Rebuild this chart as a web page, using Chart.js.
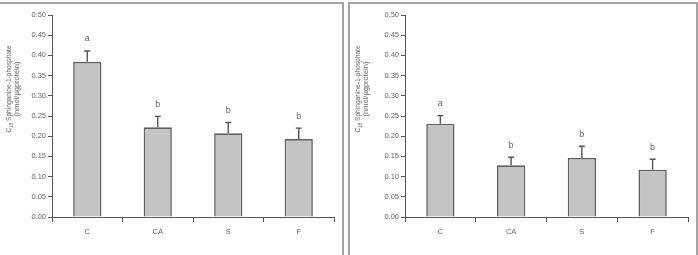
<!DOCTYPE html>
<html>
<head>
<meta charset="utf-8">
<script src="https://cdn.jsdelivr.net/npm/chart.js@4"></script>
<style>
  body { margin: 0; background: #fff; width: 698px; height: 255px; overflow: hidden; position: relative; }
  .frame { position: absolute; border: 2px solid #a3a3a3; box-sizing: border-box; }
  .box { position: absolute; top: 0; height: 255px; }
</style>
</head>
<body>
<div class="frame" style="left:-4px; top:2px; width:348px; height:262px;"></div>
<div class="frame" style="left:348px; top:2px; width:350px; height:262px;"></div>
<div class="box" style="left:0; width:344px;"><canvas id="chartLeft"></canvas></div>
<div class="box" style="left:349px; width:349px;"><canvas id="chartRight"></canvas></div>
<script>
const categories = ['C', 'CA', 'S', 'F'];
const yTicks = [0, 0.05, 0.10, 0.15, 0.20, 0.25, 0.30, 0.35, 0.40, 0.45, 0.50];

const leftMeans = [0.384, 0.222, 0.207, 0.193];
const leftErrors = [0.027, 0.027, 0.027, 0.027];
const leftLetters = ['a', 'b', 'b', 'b'];

const rightMeans = [0.231, 0.128, 0.146, 0.117];
const rightErrors = [0.020, 0.020, 0.029, 0.026];
const rightLetters = ['a', 'b', 'b', 'b'];

const FONT = '"Liberation Sans", Arial, sans-serif';
const textColor = '#666666';
const axisColor = '#555555';

Chart.defaults.font.family = FONT;
Chart.defaults.font.size = 7.5;
Chart.defaults.color = textColor;

// error bars (upper only) + significance letters
const errorBars = {
  id: 'errorBars',
  afterDatasetsDraw(chart, args, opts) {
    const ctx = chart.ctx;
    const meta = chart.getDatasetMeta(0);
    const y = chart.scales.y;
    ctx.save();
    meta.data.forEach((bar, i) => {
      const top = y.getPixelForValue(opts.means[i]);
      const errTop = y.getPixelForValue(opts.means[i] + opts.errors[i]);
      ctx.strokeStyle = axisColor;
      ctx.lineWidth = 1.4;
      ctx.beginPath();
      ctx.moveTo(bar.x, top);
      ctx.lineTo(bar.x, errTop);
      ctx.moveTo(bar.x - 3, errTop);
      ctx.lineTo(bar.x + 3, errTop);
      ctx.stroke();
      ctx.fillStyle = textColor;
      ctx.font = '9px ' + FONT;
      ctx.textAlign = 'center';
      ctx.textBaseline = 'middle';
      ctx.fillText(opts.letters[i], bar.x, errTop - 12);
    });
    ctx.restore();
  }
};

// two-line rotated y title with subscript 18
const yTitle = {
  id: 'yTitle',
  afterDraw(chart, args, opts) {
    const ctx = chart.ctx;
    ctx.save();
    ctx.fillStyle = textColor;
    ctx.textBaseline = 'middle';
    ctx.translate(opts.x, opts.cy);
    ctx.rotate(-Math.PI / 2);
    const big = '6.6px ' + FONT, small = '4.5px ' + FONT;
    const rest = ' Sphinganine-1-phosphate';
    ctx.font = big;
    const wC = ctx.measureText('C').width, wR = ctx.measureText(rest).width;
    ctx.font = small;
    const wS = ctx.measureText('18').width;
    let x = -(wC + wS + wR) / 2;
    ctx.textAlign = 'left';
    ctx.font = big;
    ctx.fillText('C', x, 0);
    ctx.font = small;
    ctx.fillText('18', x + wC, 2);
    ctx.font = big;
    ctx.fillText(rest, x + wC + wS, 0);
    ctx.textAlign = 'center';
    ctx.font = '7.5px ' + FONT;
    ctx.fillText('(nmol/\u00b5gprotein)', 0, 7);
    ctx.restore();
  }
};

function makeChart(id, means, errors, letters, yWidth) {
  return new Chart(document.getElementById(id), {
    type: 'bar',
    data: {
      labels: categories,
      datasets: [{
        data: means,
        backgroundColor: '#c4c4c4',
        borderColor: '#5e5e5e',
        borderWidth: 1.6,
        barPercentage: 0.4,
        categoryPercentage: 1.0
      }]
    },
    options: {
      responsive: true,
      maintainAspectRatio: false,
      animation: false,
      events: [],
      layout: { padding: { left: 0, right: 10, top: 15, bottom: 0 } },
      plugins: {
        legend: { display: false },
        tooltip: { enabled: false },
        errorBars: { means: means, errors: errors, letters: letters },
        yTitle: { x: 9.5, cy: 89 }
      },
      scales: {
        x: {
          afterFit(s) { s.height = 38; },
          grid: { display: true, drawOnChartArea: false, drawTicks: true, tickLength: 5, color: axisColor, offset: true },
          border: { display: true, color: axisColor, width: 1 },
          ticks: { padding: 5, color: textColor, font: { size: 7.5 } }
        },
        y: {
          min: 0,
          max: 0.5,
          afterFit(s) { s.width = yWidth; },
          afterBuildTicks(s) { s.ticks = yTicks.map(v => ({ value: v })); },
          grid: { display: true, drawOnChartArea: false, drawTicks: true, tickLength: 4, color: axisColor },
          border: { display: true, color: axisColor, width: 1 },
          ticks: { padding: 2, color: textColor, font: { size: 7.5 }, callback: v => v.toFixed(2) }
        }
      }
    },
    plugins: [errorBars, yTitle]
  });
}

makeChart('chartLeft', leftMeans, leftErrors, leftLetters, 52);
makeChart('chartRight', rightMeans, rightErrors, rightLetters, 56);
</script>
</body>
</html>
